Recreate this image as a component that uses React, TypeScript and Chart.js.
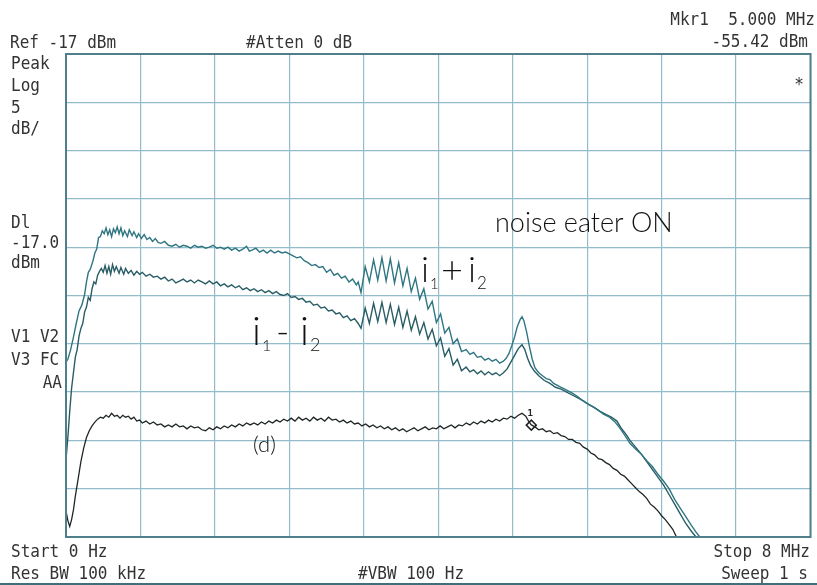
import React, { useEffect, useRef } from "react";
import { Chart, registerables } from "chart.js";

Chart.register(...registerables);

// Frequency axis (MHz) and level axis (dBm) grid ticks
const xGridMHz = [0, 0.8, 1.6, 2.4, 3.2, 4.0, 4.8, 5.6, 6.4, 7.2, 8.0];
const yGridDbm = [-67, -62, -57, -52, -47, -42, -37, -32, -27, -22, -17];

// Trace i1 + i2
const sumFreq = [0.00,0.02,0.05,0.08,0.11,0.14,0.17,0.20,0.22,0.24,0.26,0.29,0.31,0.33,0.35,0.37,0.39,0.41,0.43,0.45,0.47,0.49,0.51,0.53,0.55,0.57,0.59,0.61,0.63,0.66,0.68,0.71,0.73,0.76,0.78,0.81,0.84,0.87,0.90,0.93,0.96,0.99,1.02,1.06,1.10,1.14,1.18,1.22,1.26,1.30,1.34,1.38,1.42,1.46,1.50,1.54,1.58,1.62,1.66,1.70,1.74,1.78,1.82,1.86,1.90,1.94,1.97,2.00,2.04,2.08,2.12,2.16,2.20,2.24,2.28,2.32,2.36,2.40,2.44,2.48,2.52,2.56,2.60,2.64,2.68,2.72,2.76,2.80,2.84,2.88,2.92,2.96,3.00,3.04,3.08,3.12,3.14,3.17,3.215,3.26,3.305,3.35,3.395,3.44,3.485,3.53,3.575,3.62,3.665,3.71,3.755,3.80,3.845,3.89,3.935,3.98,4.025,4.07,4.115,4.16,4.205,4.25,4.30,4.34,4.38,4.42,4.46,4.50,4.54,4.58,4.62,4.66,4.70,4.73,4.76,4.79,4.82,4.85,4.88,4.90,4.92,4.95,4.98,5.01,5.04,5.08,5.12,5.16,5.20,5.24,5.28,5.32,5.36,5.40,5.44,5.49,5.54,5.60,5.66,5.72,5.78,5.84,5.90,5.95,6.00,6.06,6.12,6.18,6.24,6.30,6.36,6.42,6.48,6.54,6.60,6.66,6.72,6.77,6.81,8.00];
const sumLevel = [-48.9,-48.6,-47.6,-46.3,-44.9,-43.6,-43.0,-41.9,-40.6,-39.6,-39.3,-38.4,-37.6,-37.2,-36.0,-35.9,-35.3,-35.6,-35.0,-35.7,-35.2,-35.9,-35.1,-35.5,-34.9,-35.6,-35.0,-35.8,-35.3,-35.9,-35.2,-35.8,-35.4,-36.0,-35.6,-36.1,-35.7,-36.2,-36.0,-36.4,-36.1,-36.5,-36.6,-36.4,-36.8,-36.9,-36.7,-37.0,-36.8,-36.9,-37.1,-36.8,-37.0,-36.9,-37.1,-37.0,-36.8,-37.1,-37.0,-37.2,-37.0,-37.3,-37.1,-37.4,-37.2,-36.9,-37.4,-37.3,-37.1,-37.5,-37.3,-37.6,-37.3,-37.6,-37.4,-37.6,-37.5,-37.7,-37.9,-38.1,-38.0,-38.4,-38.6,-38.9,-38.8,-39.1,-39.0,-39.6,-39.3,-39.9,-39.7,-40.2,-40.0,-40.6,-40.3,-40.9,-40.6,-41.7,-39.0,-40.6,-38.3,-40.4,-38.1,-40.5,-38.2,-40.7,-38.6,-41.0,-39.2,-41.6,-40.2,-42.4,-41.3,-43.4,-42.6,-44.8,-43.9,-45.9,-45.3,-47.0,-46.5,-47.8,-47.6,-48.1,-47.9,-48.4,-48.3,-48.7,-48.5,-48.8,-48.6,-49.0,-48.8,-48.5,-48.0,-47.2,-46.3,-45.2,-44.5,-44.2,-44.6,-45.8,-47.3,-48.6,-49.5,-50.0,-50.3,-50.6,-50.7,-51.1,-51.3,-51.5,-51.7,-51.9,-52.1,-52.4,-52.8,-53.2,-53.5,-53.9,-54.3,-54.6,-55.1,-55.7,-56.4,-57.3,-57.9,-58.4,-59.1,-59.7,-60.5,-61.2,-62.0,-63.1,-64.0,-64.9,-65.8,-66.5,-67.0,-67.0];

// Trace i1 - i2
const diffFreq = [0.00,0.02,0.04,0.06,0.08,0.10,0.12,0.14,0.16,0.18,0.20,0.22,0.24,0.26,0.28,0.30,0.32,0.34,0.36,0.38,0.40,0.42,0.44,0.46,0.48,0.50,0.52,0.54,0.57,0.59,0.62,0.64,0.67,0.70,0.73,0.76,0.79,0.82,0.86,0.90,0.94,0.98,1.02,1.06,1.10,1.14,1.18,1.22,1.26,1.30,1.34,1.38,1.42,1.46,1.50,1.54,1.58,1.62,1.66,1.70,1.74,1.78,1.82,1.86,1.90,1.94,1.98,2.02,2.06,2.10,2.14,2.18,2.22,2.26,2.30,2.34,2.38,2.42,2.46,2.50,2.54,2.58,2.62,2.66,2.70,2.74,2.78,2.82,2.86,2.90,2.94,2.98,3.02,3.06,3.10,3.14,3.17,3.215,3.26,3.305,3.35,3.395,3.44,3.485,3.53,3.575,3.62,3.665,3.71,3.755,3.80,3.845,3.89,3.935,3.98,4.025,4.07,4.115,4.16,4.205,4.25,4.30,4.34,4.38,4.42,4.46,4.50,4.54,4.58,4.62,4.66,4.70,4.74,4.78,4.82,4.86,4.90,4.93,4.96,4.99,5.03,5.08,5.14,5.20,5.26,5.32,5.38,5.44,5.50,5.56,5.62,5.68,5.74,5.80,5.86,5.92,5.97,6.02,6.06,6.12,6.18,6.24,6.30,6.36,6.42,6.48,6.54,6.60,6.66,6.72,6.77,8.00];
const diffLevel = [-59.0,-56.7,-54.0,-51.6,-50.0,-48.4,-47.6,-46.2,-45.4,-44.9,-43.7,-43.2,-42.2,-42.5,-41.3,-40.6,-40.8,-39.9,-39.5,-39.2,-39.6,-38.9,-39.7,-39.0,-39.8,-38.8,-39.5,-39.0,-39.7,-39.1,-39.8,-39.2,-39.7,-39.4,-39.9,-39.5,-39.8,-39.6,-40.0,-39.8,-40.1,-40.0,-40.3,-40.1,-40.5,-40.3,-40.7,-40.5,-40.3,-40.6,-40.4,-40.7,-40.4,-40.6,-40.8,-40.5,-40.8,-40.6,-41.0,-40.8,-41.1,-40.9,-41.2,-41.0,-41.4,-41.2,-41.5,-41.3,-41.6,-41.4,-41.7,-41.5,-41.8,-41.6,-41.9,-42.0,-41.8,-42.2,-42.1,-42.4,-42.3,-42.7,-42.6,-43.0,-42.9,-43.3,-43.2,-43.6,-43.5,-43.9,-43.8,-44.3,-44.1,-44.6,-44.4,-44.9,-45.4,-43.3,-44.9,-42.8,-44.7,-42.7,-44.8,-42.9,-45.0,-43.2,-45.3,-43.6,-45.6,-44.2,-46.0,-44.8,-46.5,-45.5,-47.2,-46.4,-48.3,-47.5,-49.2,-48.6,-49.8,-49.4,-49.9,-49.7,-50.1,-49.8,-50.2,-49.9,-50.2,-50.0,-50.3,-50.0,-49.6,-48.9,-48.2,-47.5,-47.1,-47.6,-48.5,-49.2,-49.8,-50.3,-50.8,-51.1,-51.5,-51.7,-52.0,-52.3,-52.6,-52.9,-53.3,-53.6,-54.0,-54.3,-54.6,-55.0,-55.8,-56.4,-57.0,-57.7,-58.4,-59.2,-60.0,-60.8,-61.6,-62.6,-63.6,-64.6,-65.6,-66.4,-67.0,-67.0];

// Trace (d)
const darkFreq = [0.00,0.02,0.04,0.06,0.08,0.10,0.13,0.16,0.19,0.22,0.25,0.28,0.31,0.34,0.37,0.40,0.43,0.46,0.49,0.52,0.55,0.58,0.61,0.64,0.67,0.70,0.73,0.76,0.79,0.82,0.86,0.90,0.94,0.98,1.02,1.06,1.10,1.14,1.18,1.22,1.26,1.30,1.34,1.38,1.42,1.46,1.50,1.54,1.58,1.62,1.66,1.70,1.74,1.78,1.82,1.86,1.90,1.94,1.98,2.02,2.06,2.10,2.14,2.18,2.22,2.26,2.30,2.34,2.38,2.42,2.46,2.50,2.54,2.58,2.62,2.66,2.70,2.74,2.78,2.82,2.86,2.90,2.94,2.98,3.02,3.06,3.10,3.14,3.18,3.22,3.26,3.30,3.34,3.38,3.42,3.46,3.50,3.54,3.58,3.62,3.66,3.70,3.74,3.78,3.82,3.86,3.90,3.94,3.98,4.02,4.06,4.10,4.14,4.18,4.22,4.26,4.30,4.34,4.38,4.42,4.46,4.50,4.54,4.58,4.62,4.66,4.70,4.74,4.78,4.82,4.86,4.90,4.94,4.97,5.00,5.04,5.08,5.12,5.16,5.20,5.24,5.28,5.32,5.36,5.40,5.44,5.48,5.52,5.56,5.60,5.64,5.68,5.72,5.76,5.80,5.84,5.88,5.92,5.96,6.00,6.04,6.08,6.12,6.16,6.20,6.24,6.28,6.32,6.36,6.40,6.44,6.48,6.52,6.56,8.00];
const darkLevel = [-64.3,-65.3,-65.9,-65.2,-64.2,-62.8,-61.0,-59.2,-57.8,-56.7,-56.0,-55.5,-55.1,-54.8,-54.6,-54.7,-54.4,-54.6,-54.2,-54.5,-54.4,-54.7,-54.4,-54.6,-54.5,-54.8,-54.6,-55.0,-54.9,-55.2,-55.0,-55.3,-55.1,-55.4,-55.3,-55.6,-55.4,-55.6,-55.3,-55.6,-55.5,-55.8,-55.5,-55.7,-55.6,-55.9,-56.0,-55.7,-55.9,-55.6,-55.8,-55.5,-55.7,-55.4,-55.6,-55.3,-55.5,-55.2,-55.4,-55.2,-55.4,-55.1,-55.3,-55.0,-55.2,-54.9,-55.1,-54.8,-55.0,-54.7,-55.0,-54.6,-54.9,-54.7,-55.0,-54.6,-54.9,-54.7,-55.0,-54.6,-54.9,-54.8,-55.1,-54.9,-55.2,-55.0,-55.3,-55.2,-55.5,-55.3,-55.6,-55.4,-55.7,-55.5,-55.8,-55.6,-55.9,-55.7,-56.0,-55.8,-56.1,-55.9,-55.7,-56.0,-55.8,-55.6,-55.9,-55.7,-55.8,-55.5,-55.8,-55.6,-55.4,-55.7,-55.4,-55.5,-55.2,-55.4,-55.1,-55.3,-55.0,-55.2,-54.9,-55.1,-54.8,-55.0,-54.7,-54.8,-54.5,-54.7,-54.4,-54.2,-54.5,-55.0,-55.4,-55.6,-55.9,-55.8,-56.1,-56.0,-56.3,-56.2,-56.5,-56.6,-56.9,-56.9,-57.2,-57.3,-57.7,-57.9,-58.3,-58.5,-58.9,-59.0,-59.3,-59.5,-59.9,-60.1,-60.5,-60.7,-61.1,-61.5,-61.9,-62.3,-62.6,-63.0,-63.6,-63.9,-64.3,-64.8,-65.2,-65.7,-66.2,-67.0,-67.0];

// Marker 1
const markerFreq = [5.0];
const markerLevel = [-55.42];

const zip = (xs: number[], ys: number[]) => xs.map((x, i) => ({ x, y: ys[i] }));

const MONO = '"DejaVu Sans Mono", "Liberation Mono", monospace';
const SANS = 'Lato, "Open Sans", "DejaVu Sans", sans-serif';

function mono(ctx: CanvasRenderingContext2D, text: string, x: number, y: number, align: CanvasTextAlign = "left") {
  ctx.save();
  ctx.translate(x, y);
  ctx.scale(0.89, 1);
  ctx.textAlign = align;
  ctx.fillText(text, 0, 0);
  ctx.restore();
}

const overlay = {
  id: "overlay",
  afterDraw(chart: any) {
    const ctx = chart.ctx as CanvasRenderingContext2D;
    const { left, top, right, bottom } = chart.chartArea;
    ctx.save();
    // frame
    ctx.strokeStyle = "#4f7f8b";
    ctx.lineWidth = 2;
    ctx.strokeRect(left, top, right - left, bottom - top);
    // bottom screen edge line
    ctx.strokeStyle = "#3f6f78";
    ctx.beginPath();
    ctx.moveTo(0, 584);
    ctx.lineTo(817, 584);
    ctx.stroke();

    // instrument annotations
    ctx.fillStyle = "#333333";
    ctx.font = `18px ${MONO}`;
    ctx.textBaseline = "alphabetic";
    mono(ctx, "Ref -17 dBm", 10, 48);
    mono(ctx, "#Atten 0 dB", 246, 48);
    mono(ctx, "Peak", 11, 69);
    mono(ctx, "Log", 11, 91);
    mono(ctx, "5", 11, 113);
    mono(ctx, "dB/", 11, 134);
    mono(ctx, "Dl", 11, 228);
    mono(ctx, "-17.0", 11, 248);
    mono(ctx, "dBm", 11, 268);
    mono(ctx, "V1 V2", 11, 342);
    mono(ctx, "V3 FC", 11, 365);
    mono(ctx, "Start 0 Hz", 11, 557);
    mono(ctx, "Res BW 100 kHz", 11, 579);
    mono(ctx, "#VBW 100 Hz", 358, 579);
    mono(ctx, "AA", 62, 388, "right");
    mono(ctx, "Mkr1  5.000 MHz", 815, 25, "right");
    mono(ctx, "-55.42 dBm", 808, 47, "right");
    mono(ctx, "Stop 8 MHz", 810, 557, "right");
    mono(ctx, "Sweep 1 s", 808, 579, "right");
    mono(ctx, "*", 799, 90, "center");

    // marker label
    const xs = chart.scales.x, ys = chart.scales.y;
    const mx = xs.getPixelForValue(markerFreq[0]);
    const my = ys.getPixelForValue(markerLevel[0]);
    ctx.font = `bold 9px ${MONO}`;
    ctx.fillStyle = "#222";
    ctx.textAlign = "center";
    ctx.fillText("1", mx - 1, my - 9);

    // figure annotations
    ctx.fillStyle = "#111";
    ctx.textAlign = "left";
    ctx.font = `300 27px ${SANS}`;
    ctx.fillText("noise eater ON", 495, 232, 213);

    ctx.font = `300 36px ${SANS}`;
    ctx.fillText("i", 421, 282);
    ctx.font = `300 15px ${SANS}`;
    ctx.fillText("1", 430, 289);
    ctx.font = `300 38px ${SANS}`;
    ctx.fillText("+", 441, 283);
    ctx.font = `300 36px ${SANS}`;
    ctx.fillText("i", 468, 282);
    ctx.font = `300 17px ${SANS}`;
    ctx.fillText("2", 477, 289);

    ctx.font = `300 40px ${SANS}`;
    ctx.fillText("i", 252, 345);
    ctx.font = `300 16px ${SANS}`;
    ctx.fillText("1", 262, 351);
    ctx.font = `300 36px ${SANS}`;
    ctx.fillText("-", 276, 344);
    ctx.font = `300 40px ${SANS}`;
    ctx.fillText("i", 300, 345);
    ctx.font = `300 18px ${SANS}`;
    ctx.fillText("2", 310, 351);

    ctx.font = `300 22px ${SANS}`;
    ctx.fillText("(d)", 253, 452);
    ctx.restore();
  },
};

export default function App() {
  const ref = useRef<HTMLCanvasElement | null>(null);
  useEffect(() => {
    if (!ref.current) return;
    const chart = new Chart(ref.current, {
      type: "line",
      data: {
        datasets: [
          {
            label: "i1+i2",
            data: zip(sumFreq, sumLevel),
            borderColor: "#2f7682",
            borderWidth: 1.4,
            pointRadius: 0,
            tension: 0,
          },
          {
            label: "i1-i2",
            data: zip(diffFreq, diffLevel),
            borderColor: "#285d66",
            borderWidth: 1.4,
            pointRadius: 0,
            tension: 0,
          },
          {
            label: "(d)",
            data: zip(darkFreq, darkLevel),
            borderColor: "#1f2626",
            borderWidth: 1.3,
            pointRadius: 0,
            tension: 0,
          },
          {
            label: "Mkr1",
            data: zip(markerFreq, markerLevel),
            showLine: false,
            pointStyle: "rectRot",
            pointRadius: 5,
            borderColor: "#222",
            backgroundColor: "#ffffff",
            borderWidth: 1.5,
          },
        ],
      },
      options: {
        animation: false,
        responsive: false,
        maintainAspectRatio: false,
        layout: { padding: { left: 66, top: 54, right: 2, bottom: 48 } },
        plugins: { legend: { display: false }, tooltip: { enabled: false } },
        scales: {
          x: {
            type: "linear",
            min: 0,
            max: 8,
            afterBuildTicks: (s: any) => { s.ticks = xGridMHz.map((v) => ({ value: v })); },
            ticks: { display: false },
            grid: { color: "#93bccb", lineWidth: 1.2, drawTicks: false },
            border: { display: false },
          },
          y: {
            type: "linear",
            min: -67,
            max: -17,
            afterBuildTicks: (s: any) => { s.ticks = yGridDbm.map((v) => ({ value: v })); },
            ticks: { display: false },
            grid: { color: "#93bccb", lineWidth: 1.2, drawTicks: false },
            border: { display: false },
          },
        },
      },
      plugins: [overlay],
    });
    return () => chart.destroy();
  }, []);
  return (
    <div style={{ position: "absolute", left: 0, top: 0, width: 817, height: 585, background: "#fff" }}>
      <canvas ref={ref} width={817} height={585} style={{ width: 817, height: 585, display: "block" }} />
    </div>
  );
}
